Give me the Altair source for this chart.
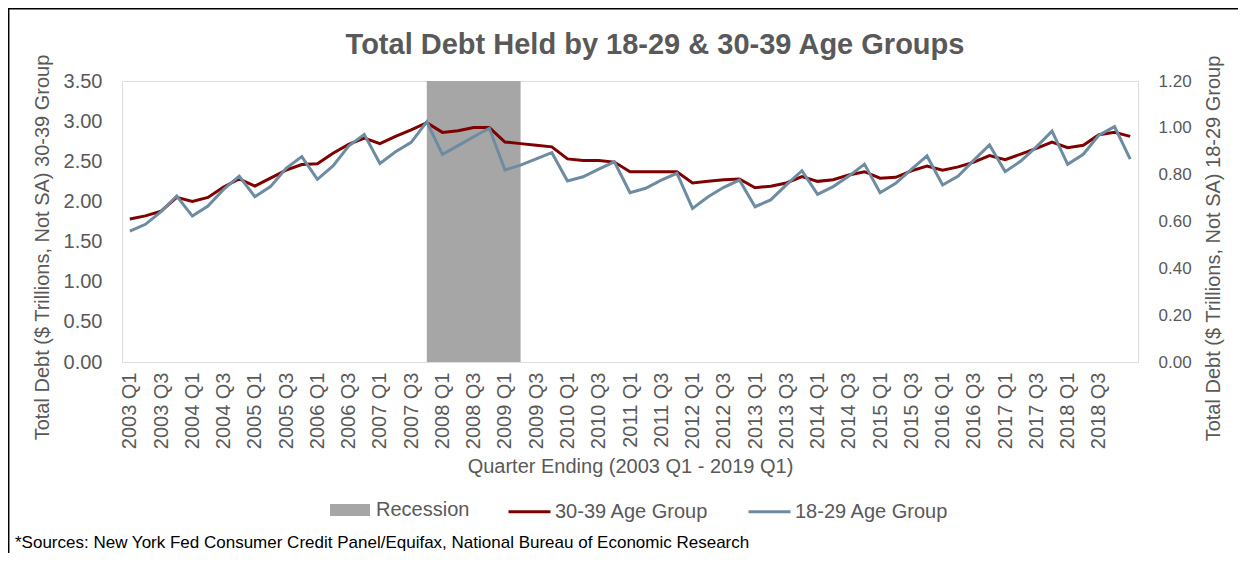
import altair as alt
import pandas as pd

# ---------------- data ----------------
YEARS = list(range(2003, 2020))
QUARTERS = [f"{y} Q{q}" for y in YEARS for q in (1, 2, 3, 4)][:65]   # 2003 Q1 .. 2019 Q1

DEBT_30_39 = [
    1.78, 1.82, 1.88, 2.05,
    2.00, 2.05, 2.18, 2.28,
    2.19, 2.29, 2.39, 2.46,
    2.47, 2.60, 2.71, 2.79,
    2.72, 2.81, 2.89, 2.98,
    2.86, 2.88, 2.92, 2.92,
    2.74, 2.72, 2.70, 2.68,
    2.53, 2.51, 2.51, 2.49,
    2.37, 2.37, 2.37, 2.37,
    2.23, 2.25, 2.27, 2.28,
    2.17, 2.19, 2.23, 2.31,
    2.25, 2.27, 2.33, 2.37,
    2.29, 2.30, 2.38, 2.44,
    2.39, 2.43, 2.49, 2.57,
    2.52, 2.59, 2.66, 2.74,
    2.67, 2.70, 2.83, 2.86,
    2.81,
]

DEBT_18_29 = [
    0.559, 0.588, 0.642, 0.709,
    0.623, 0.666, 0.737, 0.794,
    0.706, 0.749, 0.827, 0.877,
    0.780, 0.837, 0.922, 0.972,
    0.848, 0.898, 0.938, 1.026,
    0.887, 0.924, 0.962, 0.998,
    0.820, 0.841, 0.867, 0.894,
    0.773, 0.791, 0.824, 0.855,
    0.723, 0.742, 0.777, 0.806,
    0.656, 0.706, 0.746, 0.777,
    0.663, 0.692, 0.756, 0.817,
    0.716, 0.749, 0.794, 0.845,
    0.723, 0.763, 0.823, 0.880,
    0.756, 0.794, 0.862, 0.927,
    0.813, 0.858, 0.919, 0.986,
    0.844, 0.887, 0.969, 1.005,
    0.866,
]

RECESSION_START = "2007 Q4"
RECESSION_END = "2009 Q2"

SERIES = ["Recession", "30-39 Age Group", "18-29 Age Group"]
LEFT_TICKS = [0, 0.5, 1.0, 1.5, 2.0, 2.5, 3.0, 3.5]
RIGHT_TICKS = [0, 0.2, 0.4, 0.6, 0.8, 1.0, 1.2]
X_LABELS = QUARTERS[0:63:2]

TITLE = "Total Debt Held by 18-29 & 30-39 Age Groups"
LEFT_TITLE = "Total Debt ($ Trillions, Not SA) 30-39 Group"
RIGHT_TITLE = "Total Debt ($ Trillions, Not SA) 18-29 Group"
X_TITLE = "Quarter Ending (2003 Q1 - 2019 Q1)"
SOURCE_NOTE = "*Sources: New York Fed Consumer Credit Panel/Equifax, National Bureau of Economic Research"

# ---------------- style ----------------
W, H = 1016, 281
FONT = "Liberation Sans"
GREY_TXT = "#595959"
RED = "#7f0000"
BLUE = "#6d8ba1"
BAND = "#a6a6a6"

df = pd.DataFrame({"quarter": QUARTERS, "v30": DEBT_30_39, "v18": DEBT_18_29})

x_scale = alt.Scale(type="point", domain=QUARTERS, padding=0.5)
x_enc = alt.X(
    "quarter:N",
    scale=x_scale,
    sort=QUARTERS,
    axis=alt.Axis(
        values=X_LABELS, labelAngle=270, labelAlign="right", labelBaseline="middle",
        labelFontSize=20, labelColor=GREY_TXT, labelFont=FONT, labelPadding=10,
        ticks=False, tickSize=0, domain=False, grid=False,
        title=X_TITLE, titleFontSize=20, titleFont=FONT, titleColor=GREY_TXT,
        titleFontWeight="normal", titleY=104, titleBaseline="middle",
    ),
)

stroke_scale = alt.Scale(domain=SERIES[1:], range=[RED, BLUE])
stroke_legend = alt.Legend(
    title=None, orient="none", legendX=385, legendY=408, direction="horizontal",
    columns=2, symbolType="stroke", symbolSize=1764, symbolStrokeWidth=3,
    labelFontSize=20, labelFont=FONT, labelColor=GREY_TXT, labelOffset=3,
    columnPadding=33, padding=0,
)

recession_df = pd.DataFrame({"start": [RECESSION_START], "end": [RECESSION_END], "label": [SERIES[0]]})
recession = alt.Chart(recession_df).mark_rect().encode(
    x=alt.X("start:N", scale=x_scale, sort=QUARTERS),
    x2="end:N",
    y=alt.value(0),
    y2=alt.value(H),
    fill=alt.Fill(
        "label:N",
        scale=alt.Scale(domain=[SERIES[0]], range=[BAND]),
        legend=alt.Legend(
            title=None, orient="none", legendX=208, legendY=409,
            symbolType="M-1,-0.3H1V0.3H-1Z", symbolSize=1600, symbolStrokeWidth=0,
            symbolOpacity=1, labelFontSize=20, labelFont=FONT, labelColor=GREY_TXT,
            labelOffset=6, padding=0,
        ),
    ),
)

line30 = alt.Chart(df).transform_calculate(series="'30-39 Age Group'").mark_line(
    strokeWidth=3
).encode(
    x=x_enc,
    y=alt.Y(
        "v30:Q",
        scale=alt.Scale(domain=[0, 3.5], nice=False, zero=True),
        axis=alt.Axis(
            orient="left", values=LEFT_TICKS, format=".2f", grid=False, ticks=False,
            tickSize=0, domain=False, labelFontSize=20, labelFont=FONT,
            labelColor=GREY_TXT, labelPadding=20,
            title=LEFT_TITLE, titleFontSize=20, titleFont=FONT, titleColor=GREY_TXT,
            titleFontWeight="normal", titleAngle=270, titleX=-80, titleY=166,
            titleAlign="center", titleBaseline="middle",
        ),
    ),
    stroke=alt.Stroke("series:N", scale=stroke_scale, legend=stroke_legend),
)

line18 = alt.Chart(df).transform_calculate(series="'18-29 Age Group'").mark_line(
    strokeWidth=3
).encode(
    x=x_enc,
    y=alt.Y(
        "v18:Q",
        scale=alt.Scale(domain=[0, 1.2], nice=False, zero=True),
        axis=alt.Axis(
            orient="right", values=RIGHT_TICKS, format=".2f", grid=False, ticks=False,
            tickSize=0, domain=False, labelFontSize=17, labelFont=FONT,
            labelColor=GREY_TXT, labelPadding=20,
            title=RIGHT_TITLE, titleFontSize=20, titleFont=FONT, titleColor=GREY_TXT,
            titleFontWeight="normal", titleAngle=270, titleX=75, titleY=167,
            titleAlign="center", titleBaseline="middle",
        ),
    ),
    stroke=alt.Stroke("series:N", scale=stroke_scale, legend=stroke_legend),
)

title = alt.Chart(alt.Data(values=[{"t": TITLE}])).mark_text(
    align="center", baseline="alphabetic", fontSize=29, fontWeight="bold",
    font=FONT, color=GREY_TXT
).encode(x=alt.value(533), y=alt.value(-27), text="t:N")

note = alt.Chart(alt.Data(values=[{"note": SOURCE_NOTE}])).mark_text(
    align="left", baseline="middle", fontSize=17, font=FONT, color="black"
).encode(x=alt.value(-107), y=alt.value(462), text="note:N")

frame = alt.Chart(alt.Data(values=[{"a": 1}])).mark_rect(
    fillOpacity=0, stroke="black", strokeWidth=1.5
).encode(x=alt.value(-113.3), x2=alt.value(W + 300), y=alt.value(-72.3), y2=alt.value(H + 300))

left_group = alt.layer(frame, recession, line30, title, note)
chart = alt.layer(left_group, line18).resolve_scale(y="independent").properties(
    width=W,
    height=H,
    autosize=alt.AutoSizeParams(type="none"),
    padding={"left": 114, "top": 73, "right": 100, "bottom": 191},
).configure_view(stroke="black", strokeWidth=1.5).configure(background="white")

chart.save("out.html", embed_options={"renderer": "svg", "actions": False})
